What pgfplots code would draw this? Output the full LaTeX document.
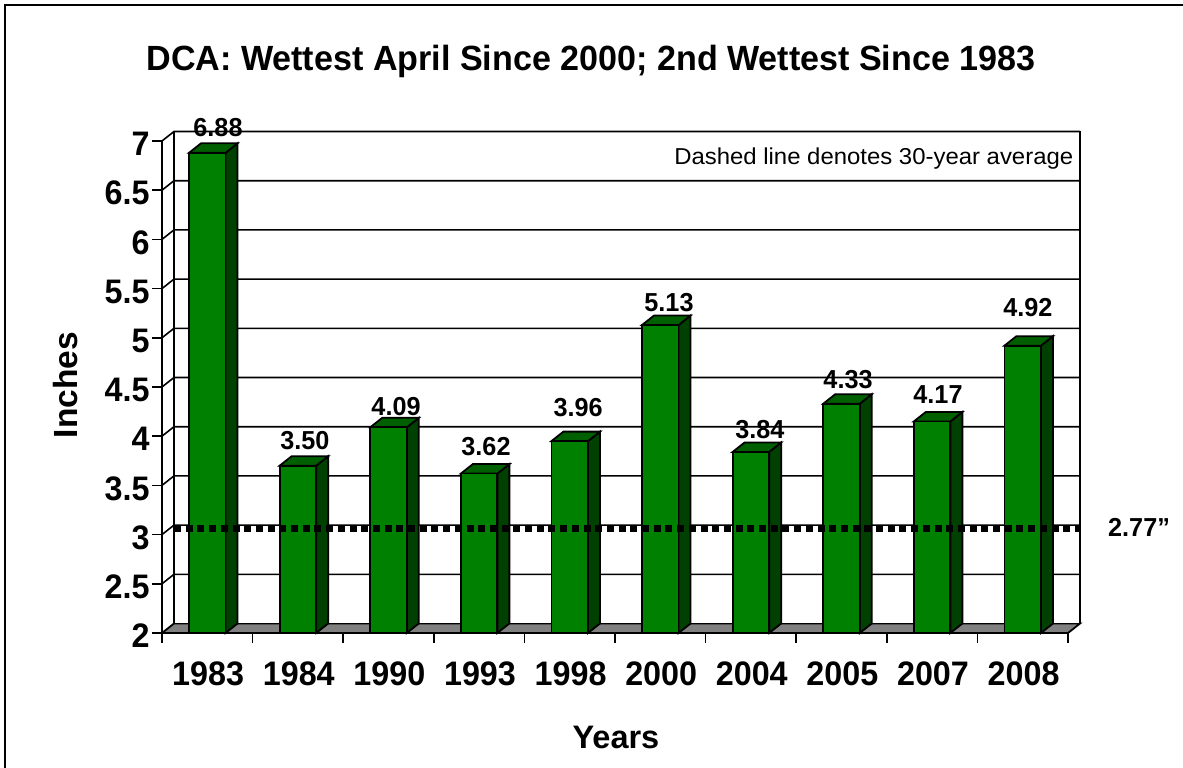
\documentclass[border=0pt]{standalone}
\usepackage{pgfplots}
\pgfplotsset{compat=1.18}
\usepackage{fontspec}
\setmainfont{Liberation Sans}
\definecolor{barfront}{RGB}{0,128,0}
\definecolor{barside}{RGB}{0,64,0}
\definecolor{bartop}{RGB}{0,96,0}
\definecolor{floorgray}{RGB}{128,128,128}
\newcommand\threed[2]{%
  \pgfmathsetmacro\xr{#1+0.2015}%
  \pgfmathsetmacro\xb{#1+0.334}%
  \pgfmathsetmacro\xl{#1-0.2015}%
  \pgfmathsetmacro\xk{#1-0.069}%
  \pgfmathsetmacro\vb{#2+0.0965}%
  \addplot[draw=black,line width=1.8pt,fill=barside,line join=miter] coordinates {(\xr,#2) (\xb,\vb) (\xb,2.0965) (\xr,2)} -- cycle;
  \addplot[draw=black,line width=1.8pt,fill=bartop,line join=miter] coordinates {(\xl,#2) (\xk,\vb) (\xb,\vb) (\xr,#2)} -- cycle;
}
\newcommand\gl[2]{\addplot[black,line width=1.6pt] coordinates {(-0.5,#1) (-0.3675,#2) (9.6325,#2)};}
\begin{document}
\begin{tikzpicture}[x=1pt,y=1pt]
\useasboundingbox (0,0) rectangle (1183,768);
\fill[white] (0,0) rectangle (1183,768);
\draw[black,line width=2.6pt] (5,-2) -- (5,763) -- (1186,763);
\begin{axis}[
  at={(162pt,135pt)},anchor=south west,
  scale only axis,width=906pt,height=492pt,
  xmin=-0.5,xmax=9.5,ymin=2,ymax=7,
  clip=false,
  axis x line*=bottom,axis y line*=left,
  axis line style={-,line width=1.8pt},
  tick style={black,line width=1.6pt},
  tick align=outside,major tick length=10pt,
  xtick={-0.5,0.5,1.5,2.5,3.5,4.5,5.5,6.5,7.5,8.5,9.5},
  xticklabels={1983,1984,1990,1993,1998,2000,2004,2005,2007,2008,{}},
  ytick={2,2.5,3,3.5,4,4.5,5,5.5,6,6.5,7},
  yticklabels={2,2.5,3,3.5,4,4.5,5,5.5,6,6.5,7},
  tick label style={font=\fontsize{34}{34}\selectfont\bfseries,xscale=0.95},
  x tick label style={xshift=48.6pt,yshift=-15pt},
  y tick label style={yshift=-3pt,xshift=1pt},
  title={DCA: Wettest April Since 2000; 2nd Wettest Since 1983},
  title style={at={(axis description cs:0.4735,1.149)},anchor=center,xscale=0.974,font=\fontsize{35}{35}\selectfont\bfseries},
  xlabel={Years},ylabel={Inches},
  xlabel style={at={(axis description cs:0.501,-0.2114)},anchor=center,font=\fontsize{32.5}{32.5}\selectfont\bfseries},
  ylabel style={at={(axis description cs:-0.106,0.504)},anchor=center,rotate=0,font=\fontsize{33.5}{33.5}\selectfont\bfseries},
]
% floor
\addplot[draw=black,line width=1.8pt,fill=floorgray] coordinates {(-0.5,2) (-0.3675,2.0965) (9.6325,2.0965) (9.5,2)} -- cycle;
% back wall
\addplot[draw=black,line width=1.8pt,fill=white] coordinates {(-0.3675,2.0965) (-0.3675,7.0965) (9.6325,7.0965) (9.6325,2.0965)} -- cycle;
\gl{2.5}{2.5965}\gl{3}{3.0965}\gl{3.5}{3.5965}\gl{4}{4.0965}\gl{4.5}{4.5965}
\gl{5}{5.0965}\gl{5.5}{5.5965}\gl{6}{6.0965}\gl{6.5}{6.5965}\gl{7}{7.0965}
% depth faces of the bars
\threed{0}{6.88}\threed{1}{3.70}\threed{2}{4.09}\threed{3}{3.62}\threed{4}{3.95}
\threed{5}{5.13}\threed{6}{3.84}\threed{7}{4.33}\threed{8}{4.15}\threed{9}{4.92}
% bars
\addplot[ybar,bar width=36.5pt,fill=barfront,draw=black,line width=1.8pt] coordinates {
 (0,6.88) (1,3.70) (2,4.09) (3,3.62) (4,3.95) (5,5.13) (6,3.84) (7,4.33) (8,4.15) (9,4.92)};
% average line
\addplot[black,line width=7pt,dash pattern=on 7pt off 4.7pt] coordinates {(-0.3675,3.067) (9.6325,3.067)};
% labels
\begin{scope}[every node/.style={font=\fontsize{26}{26}\selectfont\bfseries,anchor=center,inner sep=0pt,xscale=0.97}]
\node at (axis cs:0.118,7.132) {6.88};
\node at (axis cs:1.078,3.951) {3.50};
\node at (axis cs:2.083,4.297) {4.09};
\node at (axis cs:3.076,3.890) {3.62};
\node at (axis cs:4.092,4.287) {3.96};
\node at (axis cs:5.096,5.354) {5.13};
\node at (axis cs:6.100,4.063) {3.84};
\node at (axis cs:7.072,4.571) {4.33};
\node at (axis cs:8.065,4.419) {4.17};
\node at (axis cs:9.058,5.303) {4.92};
\node at (axis cs:10.284,3.077) {2.77”};
\end{scope}
\node[anchor=east,inner sep=0pt,font=\fontsize{23}{23}\selectfont,xscale=1.04] at (axis cs:9.56,6.817) {Dashed line denotes 30-year average};
\end{axis}
\end{tikzpicture}
\end{document}
